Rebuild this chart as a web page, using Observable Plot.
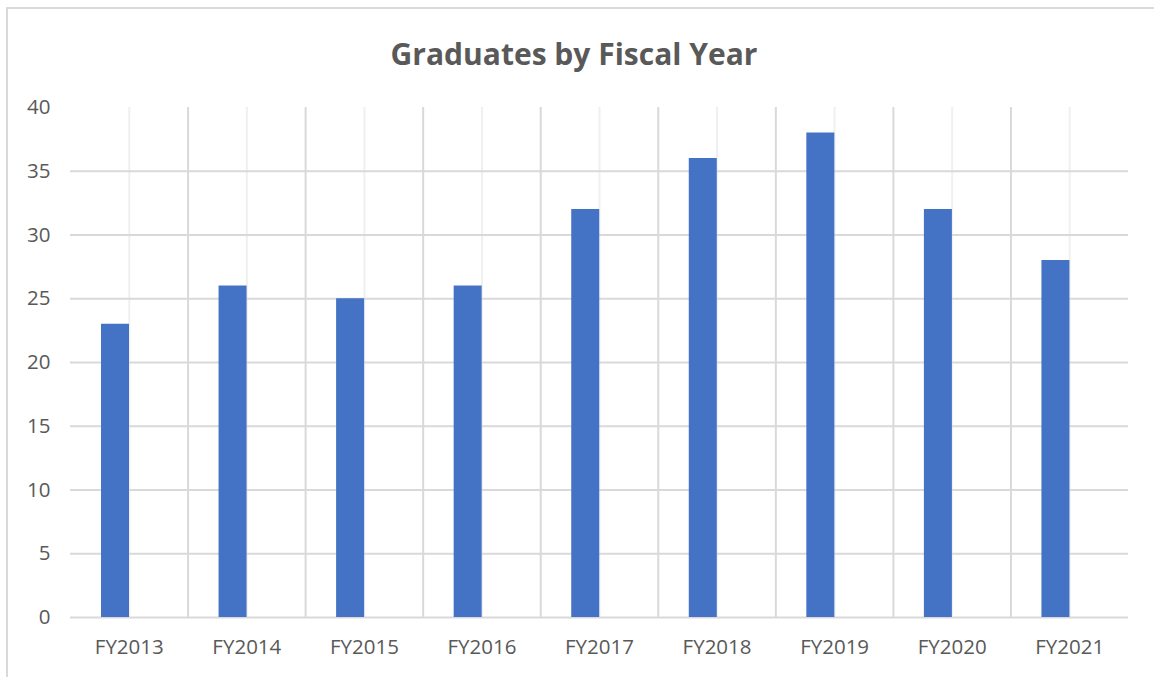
<!DOCTYPE html>
<html>
<head>
<meta charset="utf-8">
<script src="https://cdn.jsdelivr.net/npm/d3@7"></script>
<script src="https://cdn.jsdelivr.net/npm/@observablehq/plot@0.6"></script>
<style>
  html, body { margin: 0; padding: 0; background: #fff; }
  #wrap { position: relative; width: 1154px; height: 677px; overflow: hidden; font-family: "Open Sans", sans-serif; }
  #frame { position: absolute; left: 6px; top: 7px; width: 1160px; height: 700px; border: 2px solid #d9d9d9; box-sizing: border-box; }
  #title { position: absolute; left: 0; width: 1148px; top: 33px; text-align: center; font-size: 30px; font-weight: 700; color: #595959; }
  #chart { position: absolute; left: 0; top: 0; }
</style>
</head>
<body>
<div id="wrap">
  <div id="frame"></div>
  <div id="title">Graduates by Fiscal Year</div>
  <div id="chart"></div>
</div>
<script>
const years = ["FY2013","FY2014","FY2015","FY2016","FY2017","FY2018","FY2019","FY2020","FY2021"];
const graduates = [23, 26, 25, 26, 32, 36, 38, 32, 28];
const yTicks = [0, 5, 10, 15, 20, 25, 30, 35, 40];
const gridTicks = [0, 5, 10, 15, 20, 25, 30, 35];

const data = years.map((y, i) => ({year: y, value: graduates[i]}));

const W = 1154, H = 677;
const mL = 70, mR = 26, mT = 107, mB = 60;
const band = (W - mL - mR) / years.length;

const chart = Plot.plot({
  width: W,
  height: H,
  marginLeft: mL,
  marginRight: mR,
  marginTop: mT,
  marginBottom: mB,
  style: {fontFamily: "'Open Sans', sans-serif", fontSize: "20px", color: "#595959", background: "transparent"},
  x: {type: "band", domain: years, padding: 0, round: false, label: null},
  y: {domain: [0, 40], label: null},
  marks: [
    // minor vertical gridlines at category centers
    Plot.gridX(years, {stroke: "#f0f0f0", strokeOpacity: 1, strokeWidth: 2}),
    // major vertical gridlines at category boundaries
    Plot.gridX(years.slice(1), {stroke: "#d9d9d9", strokeOpacity: 1, strokeWidth: 2, dx: -band / 2}),
    // horizontal gridlines
    Plot.gridY(gridTicks, {stroke: "#d9d9d9", strokeOpacity: 1, strokeWidth: 2}),
    Plot.barY(data, {x: "year", y: "value", fill: "#4472C4", insetLeft: 31, insetRight: band - 59}),
    Plot.axisY(yTicks, {tickSize: 0, tickPadding: 20, fill: "#595959", fontSize: 20.5}),
    Plot.axisX({tickSize: 0, tickPadding: 22, fill: "#595959", fontSize: 20.5})
  ]
});
document.getElementById("chart").appendChild(chart);
</script>
</body>
</html>
